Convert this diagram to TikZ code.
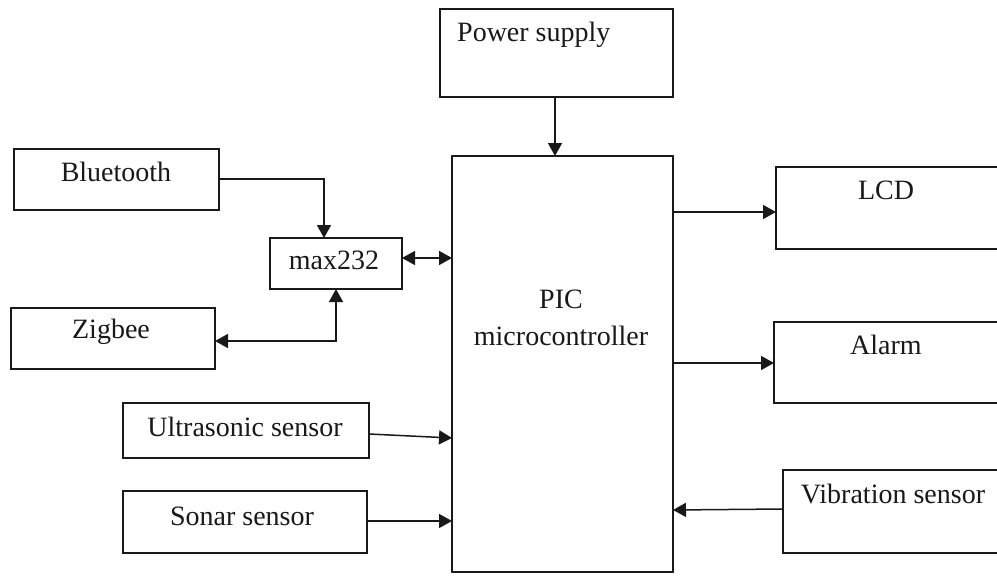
\documentclass[tikz,border=0pt]{standalone}
\usepackage{fontspec}
\setmainfont{Liberation Serif}
\usetikzlibrary{arrows.meta}
\begin{document}
\begin{tikzpicture}[x=1pt,y=-1pt,
  box/.style={draw=black!90,line width=1.5pt,rectangle,inner sep=0pt,outer sep=0pt,anchor=north west},
  lbl/.style={inner sep=0pt,font=\fontsize{28}{37}\selectfont,text=black!90},
  conn/.style={draw=black!90,line width=1.5pt,-{Triangle[length=13pt,width=14pt]}},
  bconn/.style={draw=black!90,line width=1.5pt,{Triangle[length=13pt,width=14pt]}-{Triangle[length=13pt,width=14pt]}}]
\clip (0,0) rectangle (997,576);
\fill[white] (0,0) rectangle (997,576);
% boxes
\node[box,minimum width=233pt,minimum height=88pt] (ps) at (440,9) {};
\node[box,minimum width=221pt,minimum height=416pt] (pic) at (452,156) {};
\node[box,minimum width=205pt,minimum height=61pt] (bt) at (14,149) {};
\node[box,minimum width=132pt,minimum height=51pt] (max) at (270,238) {};
\node[box,minimum width=204pt,minimum height=61pt] (zb) at (11,308) {};
\node[box,minimum width=246pt,minimum height=55pt] (us) at (123,403) {};
\node[box,minimum width=244pt,minimum height=62pt] (so) at (123,491) {};
\node[box,minimum width=230pt,minimum height=82pt] (lcd) at (776,167) {};
\node[box,minimum width=232pt,minimum height=81pt] (al) at (774,322) {};
\node[box,minimum width=224pt,minimum height=83pt] (vib) at (783,470) {};
% labels
\node[lbl,anchor=west] (pst) at (457,35) {Power supply};
\node[lbl] (btt) at (116,172) {Bluetooth};
\node[lbl] (maxt) at (334,260) {max232};
\node[lbl] (zbt) at (111,332) {Zigbee};
\node[lbl] (ust) at (245,427) {Ultrasonic sensor};
\node[lbl] (sot) at (242,516) {Sonar sensor};
\node[lbl] (lcdt) at (886,190) {LCD};
\node[lbl] (alt) at (886,345) {Alarm};
\node[lbl] (vibt) at (893,494) {Vibration sensor};
\node[lbl,align=center] (pict) at (561,318) {PIC\\microcontroller};
% connector helpers
\coordinate (btc) at (324,179);
\coordinate (zbc) at (336,341);
% connectors
\draw[conn] (ps.south -| 555,0) -- (pic.north -| 555,0);
\draw[conn] (bt.east |- btc) -- (btc) -- (max.north -| btc);
\draw[bconn] (max.east |- 0,258) -- (pic.west |- 0,258);
\draw[bconn] (max.south -| zbc) -- (zbc) -- (zb.east |- zbc);
\draw[conn] (us.east |- 0,434) -- (pic.west |- 0,438);
\draw[conn] (so.east |- 0,521) -- (pic.west |- 0,521);
\draw[conn] (pic.east |- 0,212) -- (lcd.west |- 0,212);
\draw[conn] (pic.east |- 0,363) -- (al.west |- 0,363);
\draw[conn] (vib.west |- 0,509) -- (pic.east |- 0,510);
\end{tikzpicture}
\end{document}
